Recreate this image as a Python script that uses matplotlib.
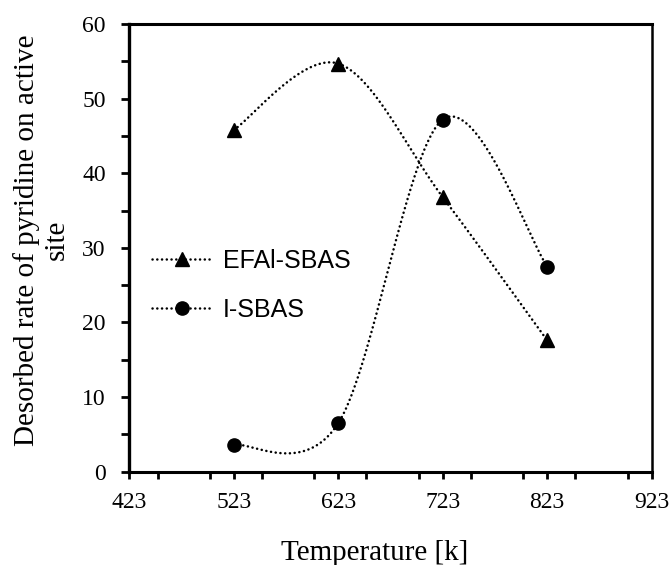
import numpy as np
import matplotlib
matplotlib.use('Agg')
import matplotlib.pyplot as plt
from matplotlib.ticker import MultipleLocator
from matplotlib.lines import Line2D

# ---- data ----
temperature = [523, 623, 723, 823]
efal_sbas = [45.8, 54.7, 36.8, 17.6]
i_sbas = [3.6, 6.5, 47.2, 27.5]
series_labels = ['EFAl-SBAS', 'I-SBAS']
x_ticks = [423, 523, 623, 723, 823, 923]
y_ticks = [0, 10, 20, 30, 40, 50, 60]
x_label = 'Temperature [k]'
y_label = 'Desorbed rate of pyridine on active\nsite'


def smooth(x, y, n=80):
    """Excel-like smoothed line (Catmull-Rom style Bezier through the points)."""
    P = np.column_stack([x, y]).astype(float)
    m = len(P)
    t = np.linspace(0, 1, n)
    out = []
    for i in range(m - 1):
        p0 = P[i - 1] if i > 0 else P[i]
        p1 = P[i]
        p2 = P[i + 1]
        p3 = P[i + 2] if i + 2 < m else P[i + 1]
        c1 = p1 + (p2 - p0) / 6
        c2 = p2 - (p3 - p1) / 6
        seg = (((1 - t) ** 3)[:, None] * p1 + (3 * (1 - t) ** 2 * t)[:, None] * c1
               + (3 * (1 - t) * t ** 2)[:, None] * c2 + (t ** 3)[:, None] * p2)
        out.append(seg if i == 0 else seg[1:])
    out = np.vstack(out)
    return out[:, 0], out[:, 1]


serif = ['Liberation Serif', 'DejaVu Serif']
sans = ['Liberation Sans', 'DejaVu Sans']
plt.rcParams['font.family'] = serif

fig = plt.figure(figsize=(6.71, 5.65), dpi=100)
ax = fig.add_axes([0.1927, 0.1651, 0.9712 - 0.1927, 0.9575 - 0.1651])

lw = 1.8
dot = (0, (0.05, 1.85))
styles = [dict(marker='^', markersize=10), dict(marker='o', markersize=9.5)]
handles = []
for vals, lab, st in zip([efal_sbas, i_sbas], series_labels, styles):
    sx, sy = smooth(temperature, vals)
    ax.plot(sx, sy, color='black', lw=lw, linestyle=dot, dash_capstyle='round', zorder=2)
    ax.plot(temperature, vals, linestyle='none', color='black', zorder=3, **st)
    handles.append(Line2D([], [], color='black', lw=lw, linestyle=dot,
                          dash_capstyle='round', label=lab, **st))

ax.set_xlim(423, 923)
ax.set_ylim(0, 60)
ax.set_xticks(x_ticks)
ax.set_yticks(y_ticks)
ax.xaxis.set_minor_locator(MultipleLocator(50))
ax.yaxis.set_minor_locator(MultipleLocator(5))
ax.tick_params(which='both', direction='out', color='black', width=2,
               labelsize=17, labelcolor='black')
ax.tick_params(axis='y', which='both', length=5.5, pad=11.5)
ax.tick_params(axis='x', which='both', length=4.8, pad=10)

for side, w in [('left', 2.4), ('bottom', 2.2), ('top', 2.2), ('right', 1.8)]:
    ax.spines[side].set_linewidth(w)
    ax.spines[side].set_color('black')

ax.set_xlabel(x_label, fontsize=21, va='center')
ax.xaxis.set_label_coords(0.470, -0.181)
ax.set_ylabel(y_label, fontsize=21, va='center', ha='center',
              linespacing=1.2, multialignment='center')
ax.yaxis.set_label_coords(-0.169, 0.5175)

leg = ax.legend(handles=handles, loc='center left', bbox_to_anchor=(0.043, 0.417),
                frameon=False, borderpad=0, borderaxespad=0, handlelength=2.4,
                handletextpad=0.45, labelspacing=1.0, numpoints=1,
                prop={'family': sans, 'size': 18})

fig.savefig('out.png', dpi=100)
